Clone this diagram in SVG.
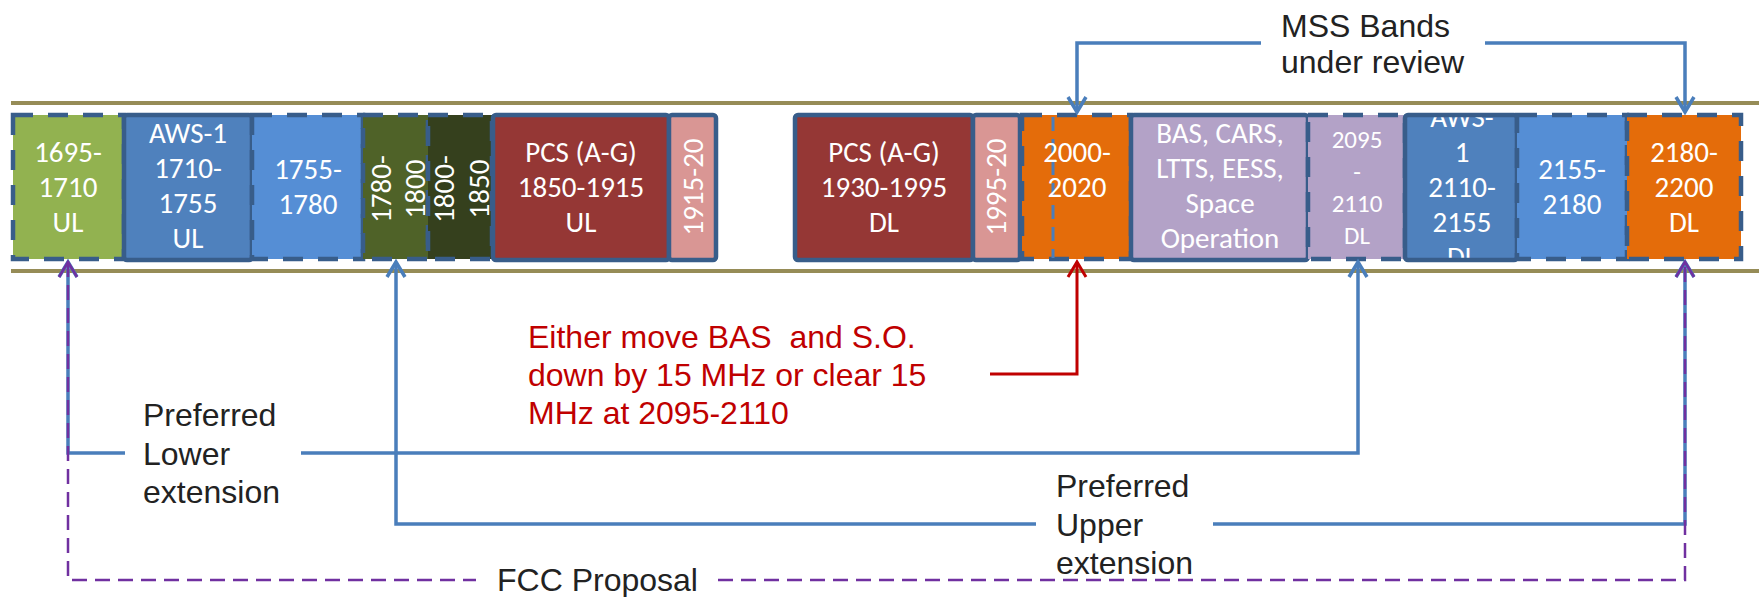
<svg xmlns="http://www.w3.org/2000/svg" width="1759" height="597" viewBox="0 0 1759 597">
<style>
.gold{stroke:#968C57;stroke-width:4;fill:none}
.bt{fill:#fff;font-family:Carlito,Lato,"Open Sans",sans-serif;font-size:29px;text-anchor:middle}
.bts{font-size:25px}
.solid{fill:none;stroke:#385D8A;stroke-width:4.5}
.dash{fill:none;stroke:#385D8A;stroke-width:4.5;stroke-dasharray:20 15}
.lbl{font-family:"Liberation Sans",Arial,sans-serif;font-size:32px;fill:#222}
.red{fill:#C00000}
.conn{fill:none;stroke:#4A7EBB;stroke-width:3.5}
.rconn{fill:none;stroke:#C00000;stroke-width:3}
.fcc{fill:none;stroke:#7030A0;stroke-width:2.5;stroke-dasharray:15 8}
</style>
<defs>
<marker id="ab" viewBox="-20 -20 40 40" refX="0" refY="0" markerWidth="40" markerHeight="40" markerUnits="userSpaceOnUse" orient="auto-start-reverse"><path d="M-15,-9 L0,0 L-15,9" fill="none" stroke="#4A7EBB" stroke-width="3.5"/></marker>
<marker id="ar" viewBox="-20 -20 40 40" refX="0" refY="0" markerWidth="40" markerHeight="40" markerUnits="userSpaceOnUse" orient="auto-start-reverse"><path d="M-15,-9 L0,0 L-15,9" fill="none" stroke="#C00000" stroke-width="3"/></marker>
<marker id="ap" viewBox="-20 -20 40 40" refX="0" refY="0" markerWidth="40" markerHeight="40" markerUnits="userSpaceOnUse" orient="auto-start-reverse"><path d="M-15,-9 L0,0 L-15,9" fill="none" stroke="#7030A0" stroke-width="2.5"/></marker>
<clipPath id="clipAws2"><rect x="1405" y="115" width="112" height="145"/></clipPath>
</defs>
<rect width="1759" height="597" fill="#fff"/>
<g id="rails">
<line class="gold" x1="11" y1="103" x2="1759" y2="103"/>
<line class="gold" x1="11" y1="271" x2="1759" y2="271"/>
</g>
<g id="n1695">
<rect x="13" y="115" width="111" height="144" fill="#92B250"/>
<rect class="dash" x="13" y="115" width="111" height="144"/>
<text class="bt"><tspan x="68" y="162">1695-</tspan><tspan x="68" y="197">1710</tspan><tspan x="68" y="232">UL</tspan></text>
</g>
<g id="nAWS1">
<rect x="124" y="115" width="128" height="145" rx="3" fill="#4F81BD"/>
<rect class="solid" x="124" y="115" width="128" height="145" rx="3"/>
<text class="bt"><tspan x="188" y="143">AWS-1</tspan><tspan x="188" y="178">1710-</tspan><tspan x="188" y="213">1755</tspan><tspan x="188" y="248">UL</tspan></text>
</g>
<g id="n1755">
<rect x="252" y="115" width="111" height="144" fill="#558ED5"/>
<rect class="dash" x="252" y="115" width="111" height="144"/>
<text class="bt"><tspan x="308" y="179">1755-</tspan><tspan x="308" y="214">1780</tspan></text>
</g>
<g id="n1780">
<rect x="363" y="115" width="65" height="144" fill="#4F6228"/>
<rect class="dash" x="363" y="115" width="65" height="144"/>
<text class="bt" transform="translate(391,189) rotate(-90)">1780-</text>
<text class="bt" transform="translate(425,189) rotate(-90)">1800</text>
</g>
<g id="n1800">
<rect x="428" y="115" width="64" height="144" fill="#35401D"/>
<rect class="dash" x="428" y="115" width="64" height="144"/>
<text class="bt" transform="translate(454,189) rotate(-90)">1800-</text>
<text class="bt" transform="translate(489,189) rotate(-90)">1850</text>
</g>
<g id="nPCSul">
<rect x="493" y="115" width="176" height="145" rx="3" fill="#953735"/>
<rect class="solid" x="493" y="115" width="176" height="145" rx="3"/>
<text class="bt"><tspan x="581" y="162">PCS (A-G)</tspan><tspan x="581" y="197">1850-1915</tspan><tspan x="581" y="232">UL</tspan></text>
</g>
<g id="n1915">
<rect x="669" y="115" width="47" height="145" rx="3" fill="#D99694"/>
<rect class="solid" x="669" y="115" width="47" height="145" rx="3"/>
<text class="bt" transform="translate(703,187) rotate(-90)">1915-20</text>
</g>
<g id="nPCSdl">
<rect x="795" y="115" width="178" height="145" rx="3" fill="#953735"/>
<rect class="solid" x="795" y="115" width="178" height="145" rx="3"/>
<text class="bt"><tspan x="884" y="162">PCS (A-G)</tspan><tspan x="884" y="197">1930-1995</tspan><tspan x="884" y="232">DL</tspan></text>
</g>
<g id="n1995">
<rect x="973" y="115" width="47" height="145" rx="3" fill="#D99694"/>
<rect class="solid" x="973" y="115" width="47" height="145" rx="3"/>
<text class="bt" transform="translate(1006,187) rotate(-90)">1995-20</text>
</g>
<g id="n2000">
<rect x="1022" y="115" width="109" height="144" fill="#E46C0A"/>
<rect class="dash" x="1022" y="115" width="109" height="144"/>
<line x1="1053" y1="117" x2="1053" y2="258" stroke="#4A7EBB" stroke-width="3" stroke-dasharray="14 8"/>
<text class="bt"><tspan x="1077" y="162">2000-</tspan><tspan x="1077" y="197">2020</tspan></text>
</g>
<g id="nBAS">
<rect x="1131" y="115" width="177" height="145" rx="3" fill="#B3A2C7"/>
<rect class="solid" x="1131" y="115" width="177" height="145" rx="3"/>
<text class="bt"><tspan x="1220" y="143">BAS, CARS,</tspan><tspan x="1220" y="178">LTTS, EESS,</tspan><tspan x="1220" y="213">Space</tspan><tspan x="1220" y="248">Operation</tspan></text>
</g>
<g id="n2095">
<rect x="1308" y="115" width="97" height="144" fill="#B3A2C7"/>
<rect class="dash" x="1308" y="115" width="97" height="144"/>
<text class="bt bts"><tspan x="1357" y="148">2095</tspan><tspan x="1357" y="180">-</tspan><tspan x="1357" y="212">2110</tspan><tspan x="1357" y="244">DL</tspan></text>
</g>
<g id="nAWS1dl">
<rect x="1405" y="115" width="112" height="145" rx="3" fill="#4F81BD"/>
<text class="bt" clip-path="url(#clipAws2)"><tspan x="1462" y="127">AWS-</tspan><tspan x="1462" y="162">1</tspan><tspan x="1462" y="197">2110-</tspan><tspan x="1462" y="232">2155</tspan><tspan x="1462" y="267">DL</tspan></text>
<rect class="solid" x="1405" y="115" width="112" height="145" rx="3"/>
</g>
<g id="n2155">
<rect x="1517" y="115" width="110" height="144" fill="#558ED5"/>
<rect class="dash" x="1517" y="115" width="110" height="144"/>
<text class="bt"><tspan x="1572" y="179">2155-</tspan><tspan x="1572" y="214">2180</tspan></text>
</g>
<g id="n2180">
<rect x="1627" y="115" width="114" height="144" fill="#E46C0A"/>
<rect class="dash" x="1627" y="115" width="114" height="144"/>
<text class="bt"><tspan x="1684" y="162">2180-</tspan><tspan x="1684" y="197">2200</tspan><tspan x="1684" y="232">DL</tspan></text>
</g>
<g id="connectors">
<path class="conn" d="M1261,43 H1077 V112" marker-end="url(#ab)"/>
<path class="conn" d="M1485,43 H1685 V112" marker-end="url(#ab)"/>
<path class="rconn" d="M990,374 H1077 V262" marker-end="url(#ar)"/>
<path class="conn" d="M68,262 V453 H125 M301,453 H1358 V262" marker-start="url(#ab)" marker-end="url(#ab)"/>
<path class="conn" d="M396,262 V524 H1036 M1213,524 H1685 V262" marker-start="url(#ab)" marker-end="url(#ab)"/>
<path class="fcc" d="M68,262 V580 H476 M718,580 H1685 V262" marker-start="url(#ap)" marker-end="url(#ap)"/>
</g>
<g id="labels">
<text class="lbl"><tspan x="1281" y="37">MSS Bands</tspan><tspan x="1281" y="73">under review</tspan></text>
<text class="lbl red"><tspan x="528" y="348">Either move BAS&#160; and S.O.</tspan><tspan x="528" y="386">down by 15 MHz or clear 15</tspan><tspan x="528" y="424">MHz at 2095-2110</tspan></text>
<text class="lbl"><tspan x="143" y="426">Preferred</tspan><tspan x="143" y="465">Lower</tspan><tspan x="143" y="503">extension</tspan></text>
<text class="lbl"><tspan x="1056" y="497">Preferred</tspan><tspan x="1056" y="536">Upper</tspan><tspan x="1056" y="574">extension</tspan></text>
<text class="lbl" x="497" y="591">FCC Proposal</text>
</g>
</svg>
